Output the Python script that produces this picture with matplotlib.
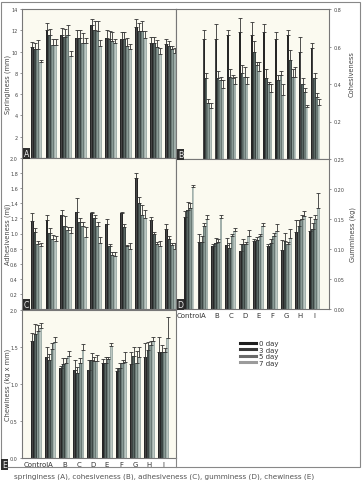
import numpy as np
import matplotlib
matplotlib.use("Agg")
from matplotlib import pyplot as plt
from matplotlib.patches import Rectangle
from matplotlib.lines import Line2D

categories = ['Control', 'A', 'B', 'C', 'D', 'E', 'F', 'G', 'H', 'I']
days = ['0 day', '3 day', '5 day', '7 day']

springiness = [[10.4, 10.2, 10.2, 9.0], [12.0, 11.6, 10.6, 10.6], [11.6, 11.4, 11.6, 9.6],
               [11.3, 11.3, 10.8, 10.8], [12.5, 12.0, 11.9, 10.5], [11.3, 11.2, 11.0, 10.8],
               [11.2, 11.2, 10.5, 10.2], [12.3, 11.9, 11.9, 11.3], [10.8, 10.8, 10.4, 9.8],
               [10.7, 10.5, 10.2, 9.9]]
springiness_err = [[0.5, 0.6, 0.9, 0.2], [0.7, 0.5, 0.6, 0.6], [0.6, 0.7, 0.9, 0.5],
                   [0.7, 0.7, 0.9, 0.5], [0.6, 0.9, 1.0, 0.6], [0.7, 0.7, 0.8, 0.4],
                   [0.6, 0.6, 0.8, 0.5], [0.8, 0.8, 1.0, 0.6], [0.6, 0.6, 0.7, 0.5],
                   [0.5, 0.5, 0.3, 0.4]]

cohesiveness = [[0.64, 0.43, 0.30, 0.27], [0.64, 0.43, 0.42, 0.38], [0.66, 0.44, 0.43, 0.40],
                [0.68, 0.46, 0.44, 0.40], [0.66, 0.57, 0.50, 0.47], [0.68, 0.43, 0.40, 0.36],
                [0.64, 0.42, 0.45, 0.34], [0.66, 0.53, 0.44, 0.44], [0.57, 0.40, 0.36, 0.28],
                [0.59, 0.43, 0.33, 0.29]]
cohesiveness_err = [[0.05, 0.03, 0.02, 0.03], [0.08, 0.04, 0.02, 0.04], [0.03, 0.04, 0.02, 0.04],
                    [0.07, 0.04, 0.05, 0.04], [0.07, 0.06, 0.02, 0.05], [0.04, 0.05, 0.01, 0.04],
                    [0.04, 0.03, 0.02, 0.06], [0.03, 0.05, 0.04, 0.05], [0.08, 0.03, 0.02, 0.01],
                    [0.03, 0.03, 0.02, 0.03]]

adhesiveness = [[1.16, 1.02, 0.86, 0.84], [1.18, 1.01, 0.93, 0.90], [1.25, 1.10, 1.05, 1.01],
                [1.29, 1.15, 1.10, 0.96], [1.27, 1.20, 1.10, 0.87], [1.13, 0.83, 0.72, 0.70],
                [1.27, 1.08, 0.83, 0.80], [1.73, 1.41, 1.25, 1.20], [1.18, 0.99, 0.86, 0.84],
                [1.06, 0.93, 0.85, 0.80]]
adhesiveness_err = [[0.11, 0.05, 0.04, 0.03], [0.06, 0.06, 0.05, 0.07], [0.06, 0.13, 0.04, 0.08],
                    [0.18, 0.05, 0.05, 0.13], [0.02, 0.05, 0.05, 0.08], [0.06, 0.03, 0.03, 0.06],
                    [0.02, 0.04, 0.02, 0.07], [0.07, 0.08, 0.13, 0.11], [0.04, 0.03, 0.03, 0.06],
                    [0.06, 0.04, 0.02, 0.07]]

gumminess = [[0.153, 0.165, 0.168, 0.203], [0.112, 0.112, 0.138, 0.150], [0.105, 0.110, 0.112, 0.152],
             [0.107, 0.102, 0.122, 0.130], [0.097, 0.108, 0.108, 0.122], [0.114, 0.115, 0.122, 0.138],
             [0.105, 0.110, 0.122, 0.130], [0.099, 0.113, 0.108, 0.118], [0.128, 0.138, 0.150, 0.155],
             [0.130, 0.134, 0.150, 0.168]]
gumminess_err = [[0.011, 0.013, 0.008, 0.004], [0.013, 0.010, 0.005, 0.007], [0.004, 0.008, 0.004, 0.005],
                 [0.011, 0.008, 0.003, 0.005], [0.011, 0.009, 0.003, 0.010], [0.003, 0.005, 0.003, 0.005],
                 [0.003, 0.006, 0.004, 0.011], [0.016, 0.014, 0.004, 0.015], [0.020, 0.011, 0.006, 0.008],
                 [0.023, 0.009, 0.007, 0.026]]

chewiness = [[1.58, 1.67, 1.72, 1.76], [1.36, 1.32, 1.47, 1.57], [1.21, 1.27, 1.29, 1.38],
             [1.19, 1.15, 1.29, 1.46], [1.19, 1.32, 1.31, 1.31], [1.29, 1.29, 1.34, 1.52],
             [1.17, 1.21, 1.29, 1.30], [1.27, 1.38, 1.29, 1.36], [1.37, 1.46, 1.53, 1.58],
             [1.43, 1.43, 1.43, 1.62]]
chewiness_err = [[0.11, 0.14, 0.08, 0.07], [0.14, 0.09, 0.08, 0.07], [0.03, 0.08, 0.06, 0.07],
                 [0.13, 0.08, 0.06, 0.08], [0.13, 0.10, 0.06, 0.08], [0.05, 0.07, 0.02, 0.03],
                 [0.05, 0.08, 0.03, 0.13], [0.16, 0.12, 0.16, 0.14], [0.19, 0.11, 0.05, 0.06],
                 [0.21, 0.10, 0.06, 0.28]]

bar_colors = ['#262626', '#3d4745', '#6b7a76', '#a2b0ab']
shine_colors = ['#444444', '#5a6663', '#8a9a95', '#bcc7c2']
legend_colors = ['#1e1e1e', '#383838', '#6a6a6a', '#9b9b9b']

W, H = 362, 481
dpi = 100
fig = plt.figure(figsize=(W / dpi, H / dpi), dpi=dpi)
fig.patch.set_facecolor('white')


def box(l, t, r, b):
    # pixel box -> figure fraction rect
    return [l / W, 1 - b / H, (r - l) / W, (b - t) / H]


def panel(rect, means, errs, ylim, ticks, fmt, xlim, right=False, xlabels=False):
    ax = fig.add_axes(rect)
    ax.set_facecolor('#fbfaf0')
    m = np.array(means)
    e = np.array(errs)
    x = np.arange(len(categories))
    w = 0.195
    for k in range(4):
        xs = x + (k - 1.5) * w
        ax.bar(xs, m[:, k], w, color=bar_colors[k], linewidth=0, zorder=2)
        ax.bar(xs, m[:, k], w * 0.3, color=shine_colors[k], linewidth=0, zorder=2)
        ax.errorbar(xs, m[:, k], yerr=[np.zeros(len(x)), e[:, k]], fmt='none',
                    ecolor='#333333', elinewidth=0.6, capsize=1.2, capthick=0.6, zorder=3)
    ax.set_ylim(ylim)
    ax.set_xlim(xlim)
    ax.set_yticks(ticks)
    ax.set_yticklabels([fmt.format(t) for t in ticks])
    ax.tick_params(axis='y', labelsize=3.5, length=1.5, width=0.4, pad=1.5, colors='#444444')
    if right:
        ax.yaxis.tick_right()
    if xlabels:
        ax.set_xticks(x)
        ax.set_xticklabels(categories)
        ax.tick_params(axis='x', labelsize=5.0, length=0, pad=2.5, colors='#333333')
    else:
        ax.set_xticks([])
    for s in ax.spines.values():
        s.set_color('#777777')
        s.set_linewidth(0.8)
    return ax


axA = panel(box(22, 10, 176, 159), springiness, springiness_err, (0, 14),
            [2, 4, 6, 8, 10, 12, 14], '{:.0f}', (-0.97, 9.36))
axB = panel(box(176, 10, 329, 160), cohesiveness, cohesiveness_err, (0, 0.8),
            [0.2, 0.4, 0.6, 0.8], '{:.1f}', (-2.6, 10.1), right=True)
axC = panel(box(22, 159, 176, 310), adhesiveness, adhesiveness_err, (0, 2.0),
            [0.2, 0.4, 0.6, 0.8, 1.0, 1.2, 1.4, 1.6, 1.8, 2.0], '{:.1f}', (-0.97, 9.36))
axD = panel(box(176, 160, 329, 310), gumminess, gumminess_err, (0, 0.25),
            [0, 0.05, 0.10, 0.15, 0.20, 0.25], '{:.2f}', (-0.94, 10.07), right=True, xlabels=True)
axE = panel(box(22, 311, 176, 459), chewiness, chewiness_err, (0, 2.0),
            [0, 0.5, 1.0, 1.5, 2.0], '{:.1f}', (-1.03, 9.89), xlabels=True)

# axis titles
lab = dict(fontsize=4.8, color='#444444', rotation=90, ha='center', va='center')
fig.text(8 / W, 1 - 84 / H, 'Springiness (mm)', **lab)
fig.text(8 / W, 1 - 234 / H, 'Adhesiveness (mJ)', **lab)
fig.text(8 / W, 1 - 385 / H, 'Chewiness (kg x mm)', **lab)
fig.text(352 / W, 1 - 74 / H, 'Cohesiveness', **lab)
fig.text(353 / W, 1 - 235 / H, 'Gumminess (kg)', **lab)

# panel letters
letters = [('A', 22, 159), ('B', 176, 160), ('C', 22, 310), ('D', 176, 310), ('E', 0, 470)]
for t, px, py in letters:
    fig.text((px + 4.5) / W, 1 - (py - 4.5) / H, t, fontsize=5.6, color='#eeeeee',
             ha='center', va='center',
             bbox=dict(boxstyle='square,pad=0.08', fc='#2e2e2e', ec='none'))

# legend
handles = [Line2D([0], [0], color=c, lw=2.2) for c in legend_colors]
fig.legend(handles, days, loc='center', bbox_to_anchor=(259 / W, 1 - 354 / H),
           frameon=False, fontsize=5.0, handlelength=2.4, handletextpad=0.4,
           labelspacing=0.05, borderpad=0, labelcolor='#333333')

# outer frame and legend box
fig.add_artist(Rectangle((1 / W, 1 - 468 / H), 359 / W, 465 / H, transform=fig.transFigure,
                         fill=False, ec='#888888', lw=0.8))
fig.add_artist(Line2D([176 / W, 176 / W], [1 - 459 / H, 1 - 468 / H], transform=fig.transFigure,
                      color='#888888', lw=0.8))

# caption (only its top shows at the bottom of the scan)
fig.text(14 / W, 1 - 474 / H,
         'springiness (A), cohesiveness (B), adhesiveness (C), gumminess (D), chewiness (E)',
         fontsize=5.2, color='#555555', va='top', ha='left')

fig.savefig('out.png', dpi=dpi)
